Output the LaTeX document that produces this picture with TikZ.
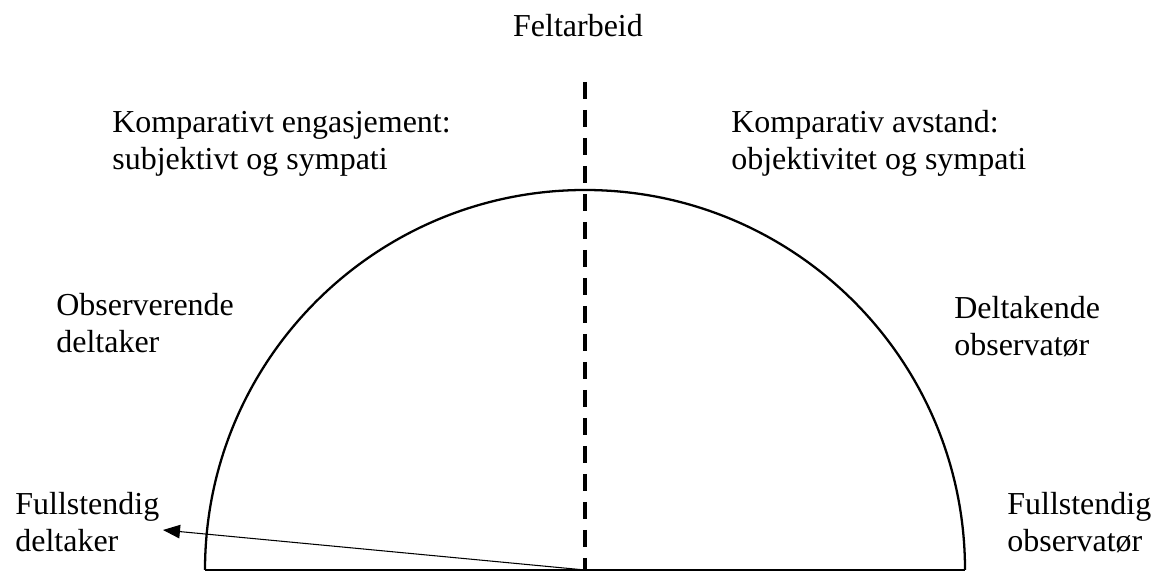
\documentclass[tikz,border=0pt]{standalone}
\usepackage{fontspec}
\setmainfont{Liberation Serif}
\usetikzlibrary{arrows.meta}

\begin{document}
\begin{tikzpicture}[x=0.02cm, y=0.02cm, line join=round,
	lbl/.style={anchor=base west, align=left, inner sep=0pt,
		font=\fontsize{18.2pt}{21.2pt}\selectfont}]

\useasboundingbox (0,0) rectangle (1165,577);

\coordinate (O) at (585,7);
\coordinate (L) at (205,7);
\coordinate (R) at (965,7);
\coordinate (T) at (585,495);
\coordinate (tip) at (163,47);

% half circle
\draw[line width=1.3pt] (L) -- (R);
\draw[line width=1.3pt] (L) arc[start angle=180, end angle=0, radius=380];
\draw[line width=1.8pt, dash pattern=on 0.34cm off 0.22cm] (T) -- (O);

\node[lbl, anchor=base] (felt) at (578,540) {Feltarbeid};

% base = last line
\node[lbl] (eng) at (112,407) {Komparativt engasjement:\\subjektivt og sympati};
\node[lbl] (avst) at (731,407) {Komparativ avstand:\\objektivitet og sympati};

\node[lbl] (obsdelt) at (56,224) {Observerende\\deltaker};
\node[lbl] (deltobs) at (954,221) {Deltakende\\observatør};

\node[lbl] (fdelt) at (15,25) {Fullstendig\\deltaker};
\node[lbl] (fobs) at (1007,25) {Fullstendig\\observatør};

\draw[line width=0.6pt, -{Triangle[length=0.34cm, width=0.27cm]}] (O) -- (tip);

\end{tikzpicture}
\end{document}
